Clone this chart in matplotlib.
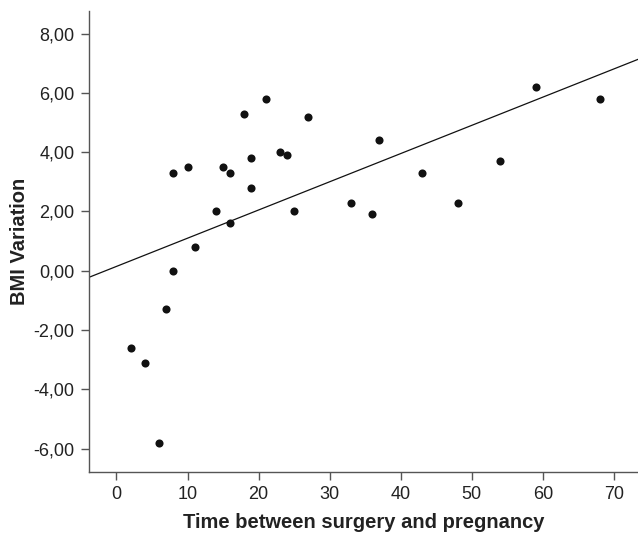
import numpy as np
import matplotlib.pyplot as plt
from matplotlib.ticker import FuncFormatter

plt.rcParams['font.family'] = ['Liberation Sans', 'DejaVu Sans']

# months between surgery and pregnancy vs BMI variation
months = [2, 4, 6, 7, 8, 8, 10, 11, 14, 15, 16, 16, 18, 19, 19, 21,
          23, 24, 25, 27, 33, 36, 37, 43, 48, 54, 59, 68]
bmi_var = [-2.6, -3.1, -5.8, -1.3, 0.0, 3.3, 3.5, 0.8, 2.0, 3.5, 3.3, 1.6, 5.3, 3.8, 2.8, 5.8,
           4.0, 3.9, 2.0, 5.2, 2.3, 1.9, 4.4, 3.3, 2.3, 3.7, 6.2, 5.8]

x_ticks = [0, 10, 20, 30, 40, 50, 60, 70]
y_ticks = [-6, -4, -2, 0, 2, 4, 6, 8]

fig = plt.figure(figsize=(6.38, 5.34), dpi=100)
ax = fig.add_axes([0.1395, 0.1167, 0.8605, 0.8627])

ax.scatter(months, bmi_var, s=34, color='#111111', zorder=3, linewidths=0)

# linear fit line across the whole plot
slope, intercept = np.polyfit(months, bmi_var, 1)
xl = np.array([-3.87, 73.4])
ax.plot(xl, intercept + slope * xl, color='#111111', lw=0.9)

ax.set_xlim(-3.87, 73.4)
ax.set_ylim(-6.78, 8.76)
ax.set_xticks(x_ticks)
ax.set_yticks(y_ticks)
ax.yaxis.set_major_formatter(FuncFormatter(lambda v, p: f'{v:.2f}'.replace('.', ',')))

for s in ['top', 'right']:
    ax.spines[s].set_visible(False)
for s in ['left', 'bottom']:
    ax.spines[s].set_color('#555555')
    ax.spines[s].set_linewidth(1.0)
ax.tick_params(colors='#555555', labelcolor='#222222', length=6, width=1.0,
               labelsize=13, pad=4.5)

ax.set_xlabel('Time between surgery and pregnancy', fontsize=14.5, fontweight='bold',
              color='#222222', labelpad=7)
ax.set_ylabel('BMI Variation', fontsize=14.5, fontweight='bold', color='#222222', labelpad=3)

fig.savefig('out.png', dpi=100)
